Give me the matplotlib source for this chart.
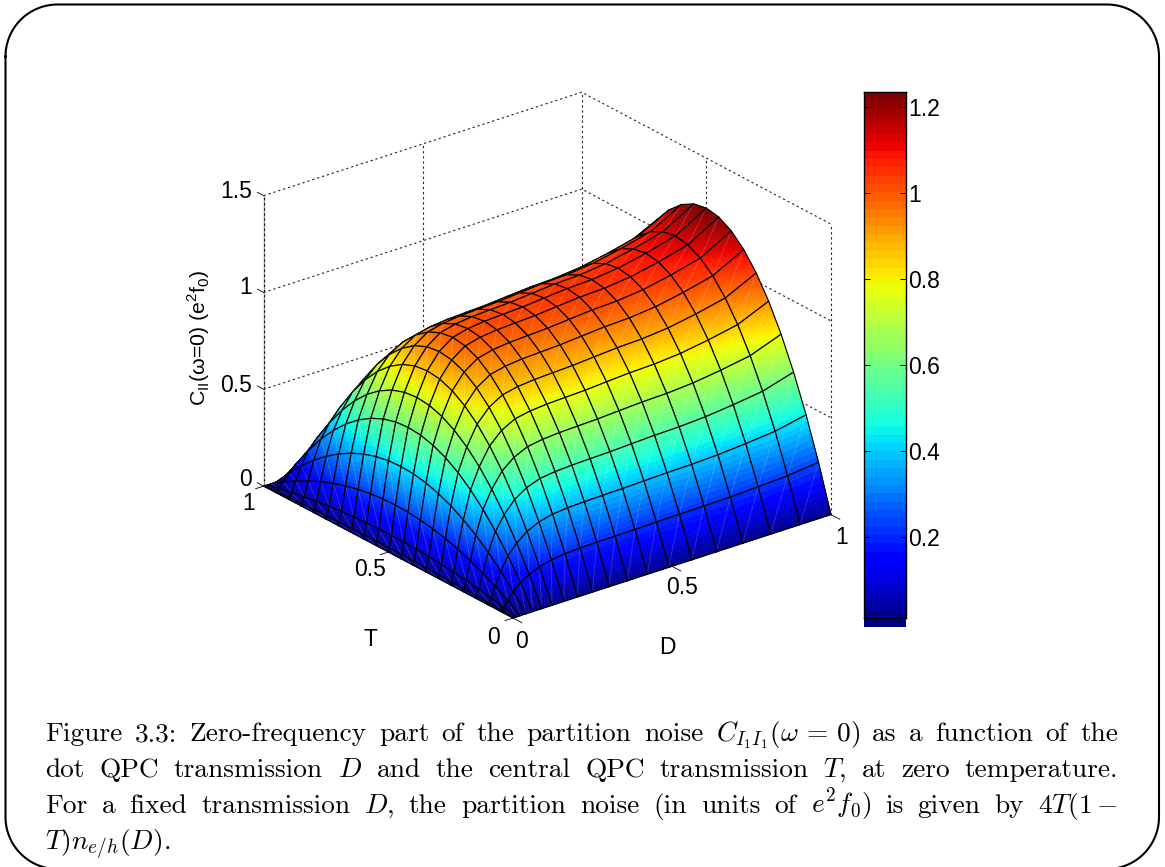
#!/usr/bin/env python3
"""Partition noise surface C_I1I1(w=0) vs D and T, with page style caption"""

import matplotlib
matplotlib.use('Agg')
import matplotlib.pyplot as plt
import numpy as np
from matplotlib.colors import ListedColormap, Normalize
from mpl_toolkits.mplot3d import proj3d
from mpl_toolkits.mplot3d.art3d import Poly3DCollection

WIDTH, HEIGHT = 1165, 867

# grid nodes and values
d_nodes = [0, 0.0025, 0.01, 0.0225, 0.04, 0.0625, 0.09, 0.1225, 0.16, 0.2025, 0.25,
           0.3025, 0.36, 0.4225, 0.49, 0.5625, 0.64, 0.7225, 0.81, 0.9025, 1]
t_nodes = [0, 0.05, 0.1, 0.15, 0.2, 0.25, 0.3, 0.35, 0.4, 0.45, 0.5,
           0.55, 0.6, 0.65, 0.7, 0.75, 0.8, 0.85, 0.9, 0.95, 1]
# height of the ridge for each D
ridge_height = [0, 0.02, 0.08, 0.23, 0.42, 0.61, 0.75, 0.87, 0.95, 1.0, 1.02,
                1.03, 1.035, 1.04, 1.05, 1.06, 1.065, 1.08, 1.11, 1.15, 1.242]
# relative height across T
t_profile = [0, 0.19, 0.36, 0.51, 0.64, 0.75, 0.84, 0.91, 0.96, 0.99, 1,
             0.99, 0.96, 0.91, 0.84, 0.75, 0.64, 0.51, 0.36, 0.19, 0]

d_ticks = [0, 0.5, 1]
t_ticks = [0, 0.5, 1]
z_ticks = [0, 0.5, 1, 1.5]
cbar_ticks = [0.2, 0.4, 0.6, 0.8, 1, 1.2]
cbar_labels = ['0.2', '0.4', '0.6', '0.8', '1', '1.2']

caption_lines = [
    r'Figure 3.3: Zero-frequency part of the partition noise $C_{I_1I_1}(\omega\,=\,0)$ as a function of the',
    r'dot QPC transmission $D$ and the central QPC transmission $T$, at zero temperature.',
    r'For a fixed transmission $D$, the partition noise (in units of $e^2f_0$) is given by $4T(1-$',
    r'$T)n_{e/h}(D)$.',
]

SANS = 'Liberation Sans'
TICK_SIZE = 16.5
LABEL_SIZE = 15.4
CAPTION_SIZE = 19.7
GRID_STYLE = (0, (2.0, 2.6))
CLIM = (-0.009, 1.235)

d = np.array(d_nodes)
t = np.array(t_nodes)
z = np.outer(t_profile, ridge_height)  # rows follow T, columns follow D

fig = plt.figure(figsize=(WIDTH / 100, HEIGHT / 100), dpi=100)

# page layer in pixel coordinates: frame, caption and axis texts
page = fig.add_axes([0, 0, 1, 1])
page.set_xlim(0, WIDTH)
page.set_ylim(HEIGHT, 0)
page.axis('off')

# rounded page frame
radius = 52
left_x, right_x, top_y, bottom_y = 5.5, 1159, 4.5, 869
arc = np.linspace(0, np.pi / 2, 30)
frame_x = np.concatenate([left_x + radius - radius * np.cos(arc),
                          right_x - radius + radius * np.sin(arc),
                          right_x - radius + radius * np.cos(arc),
                          left_x + radius - radius * np.sin(arc), [left_x]])
frame_y = np.concatenate([top_y + radius - radius * np.sin(arc),
                          top_y + radius - radius * np.cos(arc),
                          bottom_y - radius + radius * np.sin(arc),
                          bottom_y - radius + radius * np.cos(arc), [top_y + radius]])
page.plot(frame_x, frame_y, color='black', lw=1.5)

# 3D axes, orthographic like the original
ax = fig.add_axes([0, 0, 1, 1], projection='3d', computed_zorder=False)
ax.patch.set_visible(False)
ax.set_proj_type('ortho')
ax.view_init(elev=24.5, azim=-128.1)
ax.set_xlim(0, 1, view_margin=0)
ax.set_ylim(0, 1, view_margin=0)
ax.set_zlim(0, 1.5, view_margin=0)
ax.set_axis_off()
aspect = (1, 1, 0.79)


def to_px(dv, tv, zv):
    x, y, _ = proj3d.proj_transform(dv, tv, zv, ax.get_proj())
    return ax.transData.transform((x, y))


# scale and shift the box so the origin and D=1 corners land where they should
ax.set_box_aspect(aspect, zoom=1.0)
fig.canvas.draw()
width_now = to_px(1, 0, 0)[0] - to_px(0, 0, 0)[0]
ax.set_box_aspect(aspect, zoom=318.0 / width_now)
fig.canvas.draw()
origin = to_px(0, 0, 0)
ax.set_position([(513 - origin[0]) / WIDTH, ((HEIGHT - 618) - origin[1]) / HEIGHT, 1, 1])

# back walls
for zv in z_ticks[1:]:
    ax.plot([0, 1, 1], [1, 1, 0], [zv, zv, zv], color='#222222', lw=0.8, ls=GRID_STYLE, zorder=1)
ax.plot([0.5, 0.5], [1, 1], [0, 1.5], color='#222222', lw=0.8, ls=GRID_STYLE, zorder=1)
ax.plot([1, 1], [0.5, 0.5], [0, 1.5], color='#222222', lw=0.8, ls=GRID_STYLE, zorder=1)
ax.plot([1, 1], [1, 1], [0, 1.5], color='#222222', lw=0.8, ls=GRID_STYLE, zorder=1)
ax.plot([1, 1], [0, 0], [0, 1.5], color='#222222', lw=0.8, ls=GRID_STYLE, zorder=1)
ax.plot([0, 0], [1, 1], [0, 1.5], color='#999999', lw=1.0, zorder=1)
ax.plot([0, 0], [1, 1], [0, 1.5], color='#111111', lw=0.8, ls=GRID_STYLE, zorder=1.1)

# tick marks
for zv in z_ticks:
    ax.plot([0, 0], [1, 1.025], [zv, zv], color='#222222', lw=0.7, zorder=1.2)
for dv in d_ticks:
    ax.plot([dv, dv], [0, -0.035], [0, 0], color='#222222', lw=0.7, zorder=1.2)
for tv in t_ticks:
    ax.plot([0, -0.025], [tv, tv], [0, 0], color='#222222', lw=0.7, zorder=1.2)

# surface, cell by cell from the far corner to the near one so that the
# ridge hides what is behind it. Each cell is split only to get smooth colour.
jet = plt.get_cmap('jet')
norm = Normalize(*CLIM)
N_SUB = 8
weights = np.linspace(0, 1, N_SUB + 1)
order = 10.0
for i in range(len(t) - 2, -1, -1):
    for j in range(len(d) - 2, -1, -1):
        dd = d[j] + (d[j + 1] - d[j]) * weights
        tt = t[i] + (t[i + 1] - t[i]) * weights
        u, v = np.meshgrid(weights, weights)
        zz = (z[i, j] * (1 - u) * (1 - v) + z[i, j + 1] * u * (1 - v)
              + z[i + 1, j] * (1 - u) * v + z[i + 1, j + 1] * u * v)
        polys, colors = [], []
        for a in range(N_SUB):
            for b in range(N_SUB):
                polys.append([(dd[b], tt[a], zz[a, b]), (dd[b + 1], tt[a], zz[a, b + 1]),
                              (dd[b + 1], tt[a + 1], zz[a + 1, b + 1]), (dd[b], tt[a + 1], zz[a + 1, b])])
                colors.append(jet(norm(zz[a:a + 2, b:b + 2].mean())))
        coll = Poly3DCollection(polys, facecolors=colors, edgecolors=colors, linewidths=0.4)
        coll.set_zorder(order)
        ax.add_collection3d(coll)
        order += 0.001
        # faint seam on the diagonal, the original splits each cell in two triangles
        ax.plot([d[j], d[j + 1]], [t[i], t[i + 1]], [z[i, j], z[i + 1, j + 1]],
                color='white', alpha=0.18, lw=0.6, zorder=order)
        order += 0.001
        ax.plot([d[j], d[j + 1], d[j + 1], d[j], d[j]],
                [t[i], t[i], t[i + 1], t[i + 1], t[i]],
                [z[i, j], z[i, j + 1], z[i + 1, j + 1], z[i + 1, j], z[i, j]],
                color='black', lw=0.85, zorder=order)
        order += 0.001

# axis texts, placed by hand as the original has them
tick_kw = dict(fontsize=TICK_SIZE, family=SANS, color='black')
for lab, y in zip(z_ticks, [479, 386, 288, 191]):
    page.text(252, y, f'{lab:g}', ha='right', va='center', **tick_kw)
for lab, pos in zip(t_ticks, [(493, 638), (370, 570), (249, 504)]):
    page.text(pos[0], pos[1], f'{lab:g}', ha='center', va='center', **tick_kw)
for lab, pos in zip(d_ticks, [(521, 641), (682, 588), (842, 537)]):
    page.text(pos[0], pos[1], f'{lab:g}', ha='center', va='center', **tick_kw)
page.text(370, 640, 'T', ha='center', va='center', **tick_kw)
page.text(667, 648, 'D', ha='center', va='center', **tick_kw)
page.text(199, 338, r'C$_{\mathdefault{II}}$(ω=0) (e$^{\mathdefault{2}}$f$_{\mathdefault{0}}$)',
          rotation=90, ha='center', va='center', fontsize=LABEL_SIZE, family=SANS, color='black')

# colorbar: 64 bands, the image hangs out below the frame
cax = fig.add_axes([864 / WIDTH, 1 - 618 / HEIGHT, 42 / WIDTH, 526 / HEIGHT])
bands = ListedColormap(jet(np.linspace(0, 1, 64)))
cax.imshow(np.arange(64)[:, None], origin='lower', aspect='auto', cmap=bands,
           extent=(0, 1, CLIM[0], CLIM[1]), clip_on=False, interpolation='nearest')
cax.set_xlim(0, 1)
cax.set_ylim(0.0117, 1.235)
cax.set_xticks([])
cax.set_yticks(cbar_ticks)
cax.set_yticklabels(cbar_labels, fontsize=TICK_SIZE, family=SANS, color='black')
cax.tick_params(axis='y', direction='in', left=True, right=True, labelleft=False, labelright=True,
                length=4, width=0.7, pad=1.5)
for spine in cax.spines.values():
    spine.set_linewidth(1.0)

# caption, justified word by word as TeX would
renderer = fig.canvas.get_renderer()
for row, line in enumerate(caption_lines):
    words = line.split(' ')
    base = 741 + 36.0 * row
    items = [page.text(0, base, w, fontsize=CAPTION_SIZE, family='cmr10', math_fontfamily='cm',
                       ha='left', va='baseline', color='black') for w in words]
    widths = [it.get_window_extent(renderer).width for it in items]
    left, right = 45.0, 1118.0
    if row == len(caption_lines) - 1:
        gap = 0
    else:
        gap = (right - left - sum(widths)) / (len(words) - 1)
    x = left
    for it, w in zip(items, widths):
        it.set_x(x)
        x += w + gap

fig.savefig('out.png', dpi=100)
